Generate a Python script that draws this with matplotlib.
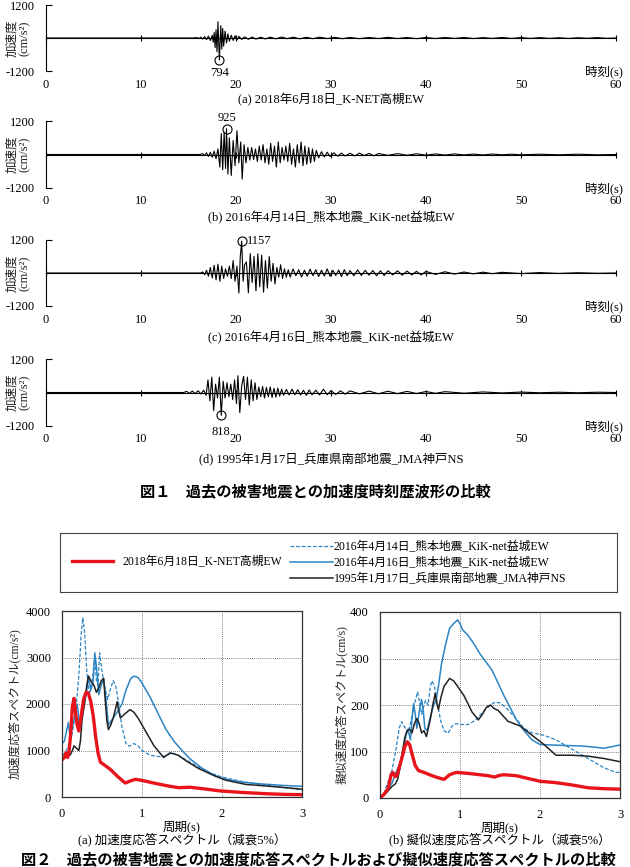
import matplotlib
matplotlib.use('Agg')
import matplotlib.pyplot as plt
import numpy as np

plt.rcParams['font.family'] = ['Liberation Serif', 'Noto Sans CJK JP']
plt.rcParams['font.size'] = 9
plt.rcParams['axes.unicode_minus'] = False

# --- labels ---
lab_knet = '2018年6月18日_K-NET高槻EW'
lab_k14 = '2016年4月14日_熊本地震_KiK-net益城EW'
lab_k16 = '2016年4月16日_熊本地震_KiK-net益城EW'
lab_kobe = '1995年1月17日_兵庫県南部地震_JMA神戸NS'
time_ticks = [0, 10, 20, 30, 40, 50, 60]

# --- acceleration time histories (s, cm/s2), peaks ---
wave_a = np.array([
    [0, 0], [15.5, 0], [15.9, 15], [16.1, -20], [16.3, 30], [16.5, -40], [16.7, 50], [16.9, -60], [17.1, 70], [17.3, -90],
    [17.5, 100], [17.6, -150], [17.7, 200], [17.8, -350], [17.9, 300], [18.0, -500], [18.1, 590], [18.25, -794], [18.4, 450], [18.5, -400],
    [18.6, 350], [18.7, -300], [18.85, 250], [19.0, -180], [19.15, 150], [19.3, -120], [19.5, 100], [19.7, -90], [19.9, 80], [20.1, -70],
    [20.3, 60], [20.6, -50], [20.9, 40], [21.3, -45], [21.7, 35], [22.1, -40], [22.6, 30], [23.1, -35], [23.6, 30], [24.2, -30],
    [24.8, 35], [25.4, -25], [26.0, 30], [26.7, -30], [27.4, 25], [28.1, -25], [28.8, 30], [29.6, -20], [30.4, 25], [31.2, -25],
    [32, 20], [33, -25], [34, 20], [35, -20], [36, 25], [37, -20], [38, 20], [39, -25], [40, 20], [41, -20],
    [42, 20], [43, -15], [44, 20], [45, -20], [46, 15], [47, -15], [48, 20], [49, -15], [50, 15], [51, -15],
    [52, 15], [53, -15], [54, 10], [55, -15], [56, 10], [57, -10], [58, 15], [59, -10], [60, 0]])

wave_b = np.array([
    [0, 0], [16.2, 0], [16.5, 30], [16.7, -40], [16.9, 60], [17.1, -70], [17.3, 80], [17.5, -100], [17.7, 120], [17.9, -150],
    [18.1, 200], [18.3, -450], [18.45, 750], [18.6, -550], [18.75, 800], [18.9, -500], [19.0, 925], [19.15, -700], [19.3, 600], [19.5, -750],
    [19.7, 500], [19.9, -400], [20.1, 850], [20.3, -300], [20.5, 450], [20.65, -880], [20.85, 350], [21.05, -300], [21.25, 250], [21.45, -200],
    [21.65, 250], [21.85, -180], [22.05, 200], [22.25, -250], [22.45, 300], [22.65, -200], [22.85, 350], [23.05, -300], [23.25, 200], [23.45, -350],
    [23.65, 400], [23.85, -250], [24.05, 300], [24.25, -450], [24.45, 450], [24.65, -300], [24.85, 250], [25.05, -200], [25.25, 300], [25.45, -250],
    [25.65, 400], [25.85, -350], [26.05, 200], [26.25, -450], [26.45, 350], [26.65, -300], [26.85, 450], [27.05, -400], [27.25, 300], [27.45, -350],
    [27.65, 250], [27.85, -300], [28.05, 200], [28.25, -250], [28.45, 150], [28.7, -120], [29.0, 100], [29.3, -90], [29.6, 80], [29.9, -70],
    [30.3, 60], [30.7, -60], [31.1, 50], [31.5, -55], [32.0, 45], [32.5, -50], [33.0, 50], [33.5, -40], [34.0, 40], [34.5, -45],
    [35, 35], [36, -30], [37, 30], [38, -25], [39, 25], [40, -25], [41, 20], [42, -20], [43, 20], [44, -15],
    [45, 15], [46, -15], [47, 15], [48, -10], [49, 10], [50, -10], [52, 10], [54, -10], [56, 10], [58, -10], [60, 0]])

wave_c = np.array([
    [0, 0], [16.3, 0], [16.5, 40], [16.7, -60], [16.9, 100], [17.1, -120], [17.3, 200], [17.5, -180], [17.7, 280], [17.9, -250],
    [18.1, 320], [18.3, -300], [18.5, 250], [18.7, -200], [18.9, 150], [19.1, -120], [19.3, 250], [19.5, -200], [19.7, 450], [19.9, -300],
    [20.1, 250], [20.3, -730], [20.45, 600], [20.6, 1157], [20.75, -300], [20.9, 300], [21.1, 400], [21.3, -720], [21.5, 700], [21.7, -350],
    [21.9, 600], [22.1, -650], [22.3, 700], [22.5, -500], [22.7, 650], [22.9, -700], [23.1, 450], [23.3, -550], [23.5, 600], [23.7, -300],
    [23.9, 350], [24.1, -400], [24.3, 200], [24.5, -150], [24.7, 300], [24.9, -200], [25.1, 150], [25.3, -150], [25.5, 120], [25.7, -150],
    [26.0, 150], [26.3, -100], [26.6, 120], [26.9, -150], [27.2, 100], [27.5, -120], [27.8, 140], [28.1, -100], [28.4, 120], [28.7, -130],
    [29.0, 100], [29.3, -110], [29.6, 150], [29.9, -120], [30.2, 100], [30.5, -90], [30.8, 110], [31.1, -130], [31.4, 120], [31.7, -100],
    [32.0, 90], [32.4, -100], [32.8, 110], [33.2, -90], [33.6, 100], [34.0, -80], [34.4, 90], [34.8, -100], [35.2, 80], [35.6, -90],
    [36.0, 80], [36.5, -70], [37.0, 80], [37.5, -80], [38.0, 70], [38.5, -70], [39.0, 60], [39.5, -70], [40.0, 60], [41.0, -50],
    [42, 45], [43, -40], [44, 35], [45, -30], [46, 30], [47, -25], [48, 25], [50, -20], [52, 15], [54, -15],
    [56, 10], [58, -10], [60, 0]])

wave_d = np.array([
    [0, 0], [14.5, 0], [14.8, 40], [15.1, -30], [15.4, 50], [15.7, -40], [16.0, 60], [16.3, -50], [16.6, 80], [16.85, -100],
    [17.05, 450], [17.25, -300], [17.45, 550], [17.65, -650], [17.85, 300], [18.05, -200], [18.25, 550], [18.45, -818], [18.65, 400], [18.85, -200],
    [19.05, 350], [19.25, -150], [19.45, 300], [19.65, -250], [19.85, 450], [20.05, -400], [20.2, 600], [20.4, -720], [20.6, 250], [20.8, 580],
    [21.0, -250], [21.2, 550], [21.4, -450], [21.6, 450], [21.8, -300], [22.0, 350], [22.2, -250], [22.4, 200], [22.6, -150], [22.8, 220],
    [23.0, -200], [23.2, 180], [23.4, -150], [23.6, 200], [23.8, -180], [24.0, 150], [24.2, -170], [24.4, 160], [24.6, -130], [24.8, 120],
    [25.0, -100], [25.3, 110], [25.6, -90], [25.9, 120], [26.2, -80], [26.5, 100], [26.8, -90], [27.1, 80], [27.4, -100], [27.7, 90],
    [28.0, -80], [28.4, 80], [28.8, -90], [29.2, 120], [29.6, -80], [30.0, 70], [30.5, -70], [31.0, 60], [31.5, -60], [32.0, 60],
    [33, -50], [34, 50], [35, -45], [36, 45], [37, -40], [38, 40], [39, -35], [40, 35], [41, -30], [42, 30],
    [44, -25], [46, 20], [48, -15], [50, 15], [52, -10], [54, 10], [56, -10], [58, 10], [60, 0]])

# --- response spectra (period s, value) ---
sa_knet = np.array([
    [0.0, 800], [0.03, 850], [0.05, 950], [0.07, 850], [0.09, 1000], [0.11, 1400], [0.13, 1950], [0.15, 2120],
    [0.17, 1800], [0.19, 1550], [0.21, 1420], [0.24, 1750], [0.27, 2100], [0.30, 2250], [0.33, 2230], [0.36, 2050],
    [0.39, 1750], [0.42, 1300], [0.45, 950], [0.48, 750], [0.52, 700], [0.6, 600], [0.69, 450], [0.79, 300],
    [0.86, 350], [0.92, 380], [1.02, 350], [1.12, 310], [1.23, 270], [1.35, 230], [1.46, 200], [1.6, 210],
    [1.8, 170], [1.98, 130], [2.23, 100], [2.56, 70], [2.8, 55], [3.0, 50]])
sa_k14 = np.array([
    [0.0, 900], [0.04, 950], [0.08, 1100], [0.12, 1300], [0.15, 1600], [0.18, 2000], [0.21, 2600], [0.24, 3500],
    [0.26, 3850], [0.28, 3600], [0.31, 2700], [0.34, 2200], [0.37, 2400], [0.41, 3000], [0.43, 2500], [0.45, 2400],
    [0.47, 3100], [0.5, 2700], [0.53, 2400], [0.57, 2100], [0.61, 2350], [0.64, 2500], [0.67, 2400], [0.71, 2000],
    [0.75, 1500], [0.8, 1150], [0.84, 1090], [0.9, 1150], [0.95, 1100], [1.0, 1000], [1.1, 900], [1.2, 870],
    [1.3, 880], [1.37, 950], [1.45, 900], [1.55, 800], [1.7, 650], [1.85, 520], [2.0, 430], [2.2, 350],
    [2.4, 290], [2.7, 220], [3.0, 150]])
sa_k16 = np.array([
    [0.0, 1150], [0.03, 1200], [0.06, 1450], [0.08, 1600], [0.1, 1300], [0.13, 1500], [0.16, 1750], [0.19, 2000],
    [0.22, 1500], [0.25, 1700], [0.28, 2000], [0.31, 2300], [0.33, 2600], [0.36, 2300], [0.39, 2500], [0.41, 3100],
    [0.43, 2800], [0.46, 2200], [0.49, 2400], [0.52, 2550], [0.55, 2100], [0.58, 1550], [0.62, 1650], [0.68, 1800],
    [0.75, 2000], [0.8, 2300], [0.86, 2550], [0.9, 2600], [0.95, 2570], [1.0, 2450], [1.1, 2150], [1.2, 1800],
    [1.3, 1450], [1.4, 1200], [1.5, 1000], [1.6, 820], [1.75, 620], [1.9, 470], [2.0, 400], [2.25, 320],
    [2.5, 280], [2.75, 250], [3.0, 230]])
sa_kobe = np.array([
    [0.0, 850], [0.05, 880], [0.1, 900], [0.13, 1000], [0.15, 1100], [0.18, 1050], [0.21, 1000], [0.23, 1200],
    [0.25, 1650], [0.28, 2000], [0.31, 2400], [0.33, 2600], [0.36, 2500], [0.4, 2400], [0.43, 2250], [0.46, 2350],
    [0.49, 2500], [0.52, 2550], [0.54, 2100], [0.56, 1650], [0.58, 1450], [0.61, 1550], [0.64, 1700], [0.67, 1900],
    [0.69, 2050], [0.71, 1850], [0.73, 1700], [0.78, 1780], [0.85, 1880], [0.9, 1820], [0.95, 1700], [1.05, 1400],
    [1.15, 1100], [1.27, 850], [1.35, 950], [1.45, 900], [1.55, 780], [1.7, 620], [1.9, 460], [2.05, 360],
    [2.3, 270], [2.6, 230], [2.8, 200], [3.0, 170]])

sv_knet = np.array([
    [0.0, 0], [0.05, 8], [0.1, 20], [0.12, 35], [0.14, 51], [0.16, 55], [0.19, 46], [0.21, 48], [0.24, 65],
    [0.28, 90], [0.31, 110], [0.34, 121], [0.37, 115], [0.4, 95], [0.44, 70], [0.48, 59], [0.55, 55], [0.62, 50],
    [0.7, 45], [0.8, 40], [0.87, 50], [0.95, 55], [1.1, 53], [1.25, 50], [1.35, 48], [1.43, 45], [1.5, 49],
    [1.55, 50], [1.7, 48], [1.85, 42], [2.0, 36], [2.2, 33], [2.4, 28], [2.6, 22], [2.8, 20], [3.0, 19]])
sv_k14 = np.array([
    [0.0, 0], [0.05, 10], [0.1, 35], [0.15, 60], [0.2, 105], [0.24, 150], [0.27, 164], [0.3, 155], [0.35, 140],
    [0.38, 160], [0.42, 195], [0.45, 215], [0.47, 228], [0.5, 200], [0.52, 180], [0.55, 200], [0.57, 210],
    [0.6, 200], [0.63, 240], [0.65, 252], [0.68, 240], [0.72, 200], [0.76, 165], [0.8, 145], [0.85, 139],
    [0.9, 155], [0.95, 160], [1.0, 158], [1.1, 158], [1.2, 168], [1.3, 188], [1.42, 205], [1.5, 205],
    [1.6, 190], [1.7, 170], [1.8, 150], [1.9, 140], [2.05, 135], [2.2, 125], [2.4, 105], [2.6, 85],
    [2.8, 65], [2.95, 55], [3.0, 55]])
sv_k16 = np.array([
    [0.0, 0], [0.05, 8], [0.1, 20], [0.15, 32], [0.2, 55], [0.25, 75], [0.3, 110], [0.33, 140], [0.35, 148],
    [0.38, 125], [0.4, 170], [0.42, 203], [0.44, 180], [0.46, 150], [0.49, 185], [0.52, 212], [0.54, 190],
    [0.56, 150], [0.59, 145], [0.63, 175], [0.67, 200], [0.7, 210], [0.73, 240], [0.77, 290], [0.82, 330],
    [0.87, 365], [0.92, 375], [0.97, 383], [1.0, 375], [1.03, 362], [1.1, 350], [1.18, 330], [1.25, 310],
    [1.4, 275], [1.55, 220], [1.7, 170], [1.8, 145], [1.9, 125], [2.0, 115], [2.3, 113], [2.5, 112],
    [2.65, 110], [2.8, 107], [3.0, 114]])
sv_kobe = np.array([
    [0.0, 0], [0.05, 6], [0.1, 15], [0.15, 25], [0.19, 30], [0.22, 40], [0.25, 65], [0.28, 100], [0.31, 130],
    [0.34, 145], [0.37, 148], [0.4, 140], [0.43, 160], [0.46, 171], [0.49, 160], [0.52, 140], [0.55, 145],
    [0.58, 132], [0.61, 155], [0.63, 170], [0.66, 200], [0.69, 225], [0.71, 205], [0.73, 190], [0.76, 215],
    [0.8, 240], [0.87, 257], [0.92, 252], [0.97, 240], [1.05, 220], [1.15, 185], [1.23, 168], [1.28, 180],
    [1.33, 195], [1.38, 200], [1.43, 192], [1.48, 188], [1.52, 180], [1.6, 165], [1.75, 155], [1.9, 135],
    [2.05, 115], [2.2, 92], [2.4, 92], [2.6, 90], [2.8, 85], [3.0, 78]])

W, H = 630, 867
def fx(px):
    return px / W
def fy(py):
    return 1 - py / H

fig = plt.figure(figsize=(6.3, 8.67), dpi=100)

# ---------------- Fig.1 waveforms ----------------
waves = [wave_a, wave_b, wave_c, wave_d]
captions = ['(a) ' + lab_knet, '(b) ' + lab_k14, '(c) ' + lab_k16, '(d) ' + lab_kobe]
rows = [(5, 71, 100), (121, 188, 218), (240, 306, 338), (359, 426, 460)]
# where the peak value goes relative to its circle (offset in points)
peak_txt = [((0, -9.5), 'center', 'center'), ((0, 8), 'center', 'center'),
            ((4, 0), 'left', 'center'), ((0, -12), 'center', 'center')]

for w, cap, (top, bot, cy), (off, ha, va) in zip(waves, captions, rows, peak_txt):
    ax = fig.add_axes([fx(46), fy(bot), (616 - 46) / W, (bot - top) / H])
    ax.plot(w[:, 0], w[:, 1], color='k', lw=0.8)
    ax.set_xlim(0, 60)
    ax.set_ylim(-1200, 1200)
    ax.spines['top'].set_visible(False)
    ax.spines['right'].set_visible(False)
    ax.spines['bottom'].set_position(('data', 0))
    ax.spines['bottom'].set_linewidth(0.8)
    ax.spines['left'].set_linewidth(0.8)
    ax.set_xticks(time_ticks)
    ax.tick_params(axis='x', direction='inout', length=5, width=0.8, pad=27, labelsize=9)
    ax.set_yticks([-1200, 1200])
    ax.tick_params(axis='y', direction='in', length=4, width=0.8, pad=8, labelsize=9)
    ax.set_ylabel('加速度\n(cm/s²)', fontsize=9, linespacing=1.15, color='#222222')
    ax.yaxis.set_label_coords(-0.026, 0.5)

    k = np.argmax(np.abs(w[:, 1]))
    tp, ap = w[k, 0], w[k, 1]
    ax.plot(tp, ap, 'o', ms=6.5, mfc='none', mec='k', mew=0.8, clip_on=False)
    ax.annotate(str(int(abs(ap))), (tp, ap), xytext=off, textcoords='offset points',
                ha=ha, va=va, fontsize=9, annotation_clip=False)

    fig.text(fx(623), fy(bot + 1), '時刻(s)', ha='right', va='center', fontsize=9)
    fig.text(fx(331), fy(cy), cap, ha='center', va='center', fontsize=9)

fig.text(fx(315), fy(491), '図１　過去の被害地震との加速度時刻歴波形の比較',
         ha='center', va='center', fontsize=11, fontweight='bold', family='Noto Sans CJK JP')

# ---------------- Fig.2 spectra ----------------
red = '#e8141c'
blue = '#2b84c4'
axa = fig.add_axes([fx(62), fy(797), (302 - 62) / W, (797 - 611) / H])
axb = fig.add_axes([fx(380), fy(798), (620 - 380) / W, (798 - 612) / H])

lines = None
for ax, k14, k16, kobe, knet in [(axa, sa_k14, sa_k16, sa_kobe, sa_knet),
                                 (axb, sv_k14, sv_k16, sv_kobe, sv_knet)]:
    l1, = ax.plot(k14[:, 0], k14[:, 1], color=blue, lw=0.9, ls=(0, (3, 1.5)))
    l2, = ax.plot(k16[:, 0], k16[:, 1], color=blue, lw=1.1)
    l3, = ax.plot(kobe[:, 0], kobe[:, 1], color='#222222', lw=1.1)
    l0, = ax.plot(knet[:, 0], knet[:, 1], color=red, lw=2.4)
    if lines is None:
        lines = (l0, l1, l2, l3)
    ax.set_xlim(0, 3)
    ax.set_xticks([0, 1, 2, 3])
    ax.grid(True, color='#555555', ls=(0, (1, 1.5)), lw=0.6)
    ax.tick_params(length=0, pad=8, labelsize=9)
    for s in ax.spines.values():
        s.set_linewidth(0.9)
        s.set_color('#333333')
    ax.set_xlabel('周期(s)', fontsize=9, labelpad=0)

axa.set_ylim(0, 4000)
axa.set_yticks([0, 1000, 2000, 3000, 4000])
axa.set_ylabel('加速度応答スペクトル(cm/s²)', fontsize=8.5, color='#222222')
axa.yaxis.set_label_coords(-0.17, 0.5)
axb.set_ylim(0, 400)
axb.set_yticks([0, 100, 200, 300, 400])
axb.set_ylabel('擬似速度応答スペクトル(cm/s)', fontsize=8.5, color='#222222')
axb.yaxis.set_label_coords(-0.135, 0.5)

fig.text(fx(182), fy(839), '(a) 加速度応答スペクトル（減衰5%）', ha='center', va='center', fontsize=9)
fig.text(fx(500), fy(839), '(b) 擬似速度応答スペクトル（減衰5%）', ha='center', va='center', fontsize=9)

# legend box
axl = fig.add_axes([fx(60), fy(592), 557 / W, 59 / H])
axl.set_xticks([])
axl.set_yticks([])
for s in axl.spines.values():
    s.set_linewidth(0.8)
    s.set_color('#444444')
leg1 = axl.legend([lines[0]], [lab_knet], loc='center left', bbox_to_anchor=(12 / 557, 0.5),
                  frameon=False, handlelength=3.5, handletextpad=0.8, borderpad=0,
                  borderaxespad=0, fontsize=8.5)
axl.add_artist(leg1)
axl.legend([lines[1], lines[2], lines[3]], [lab_k14, lab_k16, lab_kobe], loc='center left',
           bbox_to_anchor=(230 / 557, 0.49), frameon=False, handlelength=3.6,
           handletextpad=0.1, borderpad=0, borderaxespad=0, labelspacing=0.35, fontsize=8.5)

fig.text(fx(318), fy(859), '図２　過去の被害地震との加速度応答スペクトルおよび擬似速度応答スペクトルの比較',
         ha='center', va='center', fontsize=11, fontweight='bold', family='Noto Sans CJK JP')

fig.savefig('out.png', dpi=100)
